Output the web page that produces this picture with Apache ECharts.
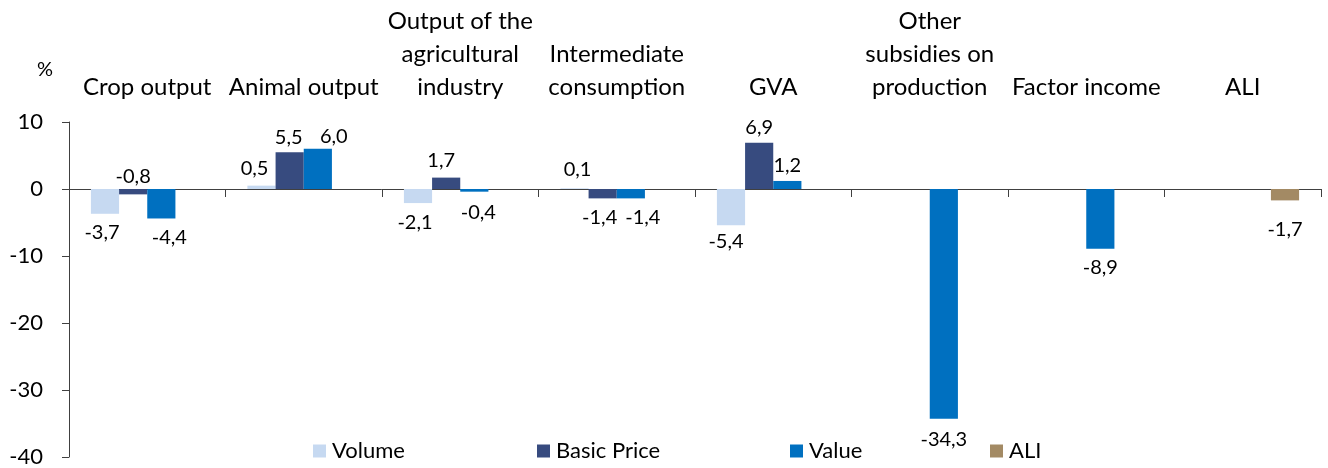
<!DOCTYPE html>
<html>
<head>
<meta charset="utf-8">
<script src="https://cdn.jsdelivr.net/npm/echarts@6/dist/echarts.min.js"></script>
<style>
  html, body { margin: 0; padding: 0; background: #fff; }
  #chart { width: 1328px; height: 468px; }
</style>
</head>
<body>
<div id="chart"></div>
<script>
// categories and values (%)
var categories = [
  "Crop output",
  "Animal output",
  "Output of the\nagricultural\nindustry",
  "Intermediate\nconsumption",
  "GVA",
  "Other\nsubsidies on\nproduction",
  "Factor income",
  "ALI"
];
var volume = [-3.7, 0.5, -2.1, 0.1, -5.4, null, null, null];
var basicPrice = [-0.8, 5.5, 1.7, -1.4, 6.9, null, null, null];
var value = [-4.4, 6.0, -0.4, -1.4, 1.2, -34.3, -8.9, null];
var ali = [null, null, null, null, null, null, null, -1.7];
var yTicks = { min: -40, max: 10, interval: 10 };

// label nudges (px) where the original labels were moved by hand
var nudgeVolume = { 0: [-3, 0], 1: [-7, -2], 2: [-3, 0], 3: [3, -4], 4: [-5, -3] };
var nudgeBasic = { 0: [0, 7], 1: [-1, 0], 2: [-5, -2], 3: [-3, 0] };
var nudgeValue = { 0: [8, 0], 1: [16, 3], 2: [4, 2], 3: [12, 0], 5: [0, 2] };
var nudgeAli = { 7: [0, 10] };

var font = "Lato, 'Noto Sans', sans-serif";
var axisColor = "#404040";

function fmt(v) {
  return v.toFixed(1).replace(".", ",");
}

function buildData(arr, nudge) {
  return arr.map(function(v, i) {
    if (v === null) return null;
    var pos = v >= 0 ? "top" : "bottom";
    // the -0,8 label sits above the axis in the original
    if (nudge === nudgeBasic && i === 0) pos = "top";
    return {
      value: v,
      label: {
        position: pos,
        distance: v >= 0 ? 5 : 9,
        offset: nudge[i] || [0, 0]
      }
    };
  });
}

function barSeries(name, arr, color, nudge) {
  return {
    name: name,
    type: "bar",
    barGap: "0%",
    barCategoryGap: "28%",
    itemStyle: { color: color },
    label: {
      show: true,
      color: "#000",
      fontFamily: font,
      fontSize: 20,
      formatter: function(p) { return fmt(p.value); }
    },
    data: buildData(arr, nudge)
  };
}

var chart = echarts.init(document.getElementById("chart"));

function legendAt(name, left) {
  return {
    data: [name],
    left: left,
    top: 440,
    padding: 0,
    icon: "rect",
    itemWidth: 13,
    itemHeight: 13,
    itemGap: 0,
    selectedMode: false,
    textStyle: { color: "#000", fontFamily: font, fontSize: 22, padding: [0, 0, 0, 1] }
  };
}

var option = {
  animation: false,
  grid: { left: 69, right: 7, top: 122, bottom: 9, containLabel: false },
  legend: [
    legendAt("Volume", 313),
    legendAt("Basic Price", 537),
    legendAt("Value", 790),
    legendAt("ALI", 990)
  ],
  graphic: [
    {
      type: "text",
      left: 37,
      top: 60,
      style: { text: "%", fill: "#000", font: "20px " + font }
    }
  ],
  xAxis: [
    {
      type: "category",
      data: categories,
      position: "bottom",
      axisLine: { onZero: true, lineStyle: { color: axisColor, width: 1 } },
      axisTick: { show: true, length: 8, interval: 0, lineStyle: { color: axisColor } },
      axisLabel: { show: false },
      splitLine: { show: false }
    },
    {
      // category names written above the plot
      type: "category",
      data: categories,
      position: "top",
      axisLine: { show: false },
      axisTick: { show: false },
      axisLabel: {
        interval: 0,
        margin: 18,
        color: "#000",
        fontFamily: font,
        fontSize: 24,
        lineHeight: 33
      }
    }
  ],
  yAxis: {
    type: "value",
    min: yTicks.min,
    max: yTicks.max,
    interval: yTicks.interval,
    axisLine: { show: true, lineStyle: { color: axisColor, width: 1 } },
    axisTick: { show: true, length: 7, lineStyle: { color: axisColor } },
    axisLabel: { color: "#000", fontFamily: font, fontSize: 22, margin: 26 },
    splitLine: { show: false }
  },
  series: [
    barSeries("Volume", volume, "#c6d9f1", nudgeVolume),
    barSeries("Basic Price", basicPrice, "#374b7f", nudgeBasic),
    barSeries("Value", value, "#0070c0", nudgeValue),
    barSeries("ALI", ali, "#a38a64", nudgeAli)
  ]
};
chart.setOption(option);
</script>
</body>
</html>
